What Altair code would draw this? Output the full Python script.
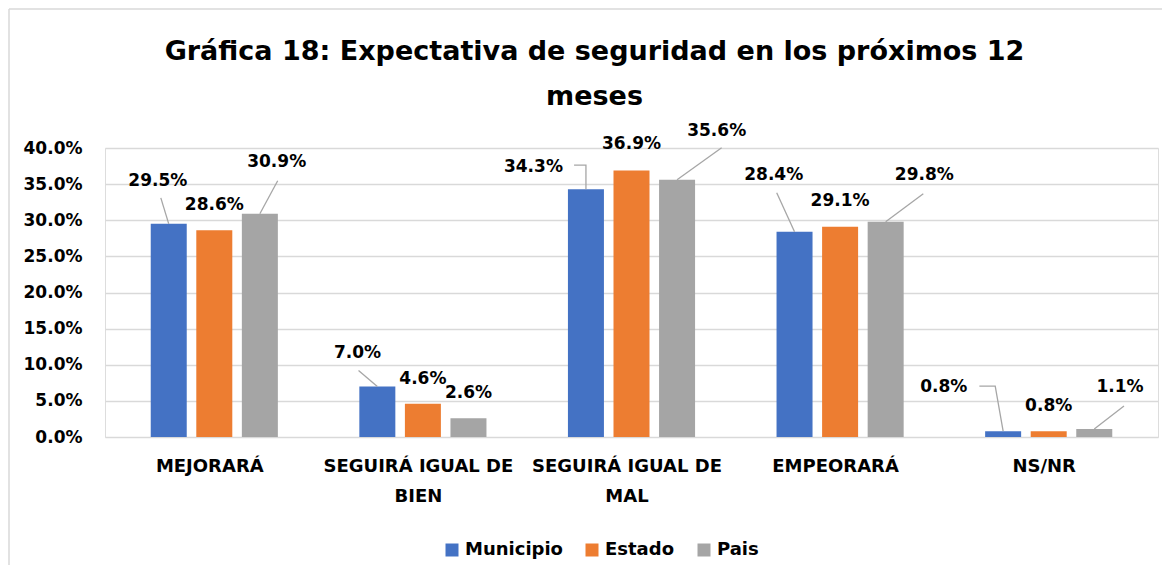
import json
import altair as alt
import pandas as pd

# ---------------- data ----------------
categories = ["MEJORARÁ", "SEGUIRÁ IGUAL DE BIEN", "SEGUIRÁ IGUAL DE MAL", "EMPEORARÁ", "NS/NR"]
category_tick_lines = [["MEJORARÁ"], ["SEGUIRÁ IGUAL DE", "BIEN"], ["SEGUIRÁ IGUAL DE", "MAL"],
                       ["EMPEORARÁ"], ["NS/NR"]]
series = ["Municipio", "Estado", "Pais"]
municipio = [29.5, 7.0, 34.3, 28.4, 0.8]
estado = [28.6, 4.6, 36.9, 29.1, 0.8]
pais = [30.9, 2.6, 35.6, 29.8, 1.1]
y_ticks = [0, 5, 10, 15, 20, 25, 30, 35, 40]
title_lines = ["Gráfica 18: Expectativa de seguridad en los próximos 12", "meses"]

# ---------------- style ----------------
W, H = 1053, 289
UX = W / len(categories)          # px per category unit
UY = H / 40.0                     # px per percentage point
BAR_STEP, BAR_W = 46, 36
COLORS = ["#4472C4", "#ED7D31", "#A5A5A5"]
FONT = "DejaVu Sans"

# data-label placement (px, relative to the top centre of each bar)
label_off = {
    "Municipio": [(-11, -43), (-20, -33), (-53, -22), (-21, -57), (-60, -44)],
    "Estado":    [(0, -25), (0, -25), (0, -26), (0, -26), (0, -25)],
    "Pais":      [(17, -52), (0, -25), (40, -49), (39, -47), (26, -42)],
}
leader_pts = {
    "Municipio": [[(0, 0), (-8, -26)], [(0, 0), (-19, -16)], [(0, 0), (0, -24), (-12, -24)],
                  [(0, 0), (-18, -39)], [(0, 0), (-8, -45), (-24, -45)]],
    "Estado":    [None, None, None, None, None],
    "Pais":      [[(0, 0), (18, -33)], None, [(0, 0), (45, -32)], [(0, 0), (38, -28)], [(0, 0), (30, -23)]],
}

values = {"Municipio": municipio, "Estado": estado, "Pais": pais}

bar_rows, lab_rows, lead_rows = [], [], []
for j, s in enumerate(series):
    for i, c in enumerate(categories):
        v = values[s][i]
        xc = i + 0.5 + (j - 1) * BAR_STEP / UX
        bar_rows.append({"x": xc, "v": v / 100, "serie": s, "cat": c})
        dx, dy = label_off[s][i]
        lab_rows.append({"x": xc + dx / UX, "v": (v - dy / UY) / 100, "t": f"{v:.1f}%"})
        pts = leader_pts[s][i]
        if pts:
            for k, (px, py) in enumerate(pts):
                lead_rows.append({"x": xc + px / UX, "v": (v - py / UY) / 100,
                                  "lid": f"{s}-{i}", "k": k})

bars_df = pd.DataFrame(bar_rows)
labs_df = pd.DataFrame(lab_rows)
lead_df = pd.DataFrame(lead_rows)

label_expr = json.dumps(category_tick_lines, ensure_ascii=False) + "[floor(datum.value)]"

X_AXIS = alt.Axis(values=[i + 0.5 for i in range(len(categories))], labelExpr=label_expr,
                  grid=False, domain=False, ticks=False, labelPadding=20, labelOffset=-5,
                  labelFont=FONT, labelFontSize=18, labelFontWeight="bold", labelColor="#000000",
                  labelLineHeight=30, labelOverlap=False, labelBound=False, labelLimit=400,
                  title=None)
Y_AXIS = alt.Axis(values=[t / 100 for t in y_ticks], format=".1%", grid=True, gridColor="#D9D9D9",
                  gridWidth=1.5, domain=False, ticks=False, labelPadding=23, labelFont=FONT,
                  labelFontSize=17, labelFontWeight="bold", labelColor="#000000", title=None)
XS = alt.Scale(domain=[0, len(categories)], nice=False, zero=False)
YS = alt.Scale(domain=[0, 0.4], nice=False)

# light chart-area frame: only the top and left edges are visible in the reference
one = pd.DataFrame({"a": [0]})
frame_top = alt.Chart(one).mark_rule(color="#D9D9D9", strokeWidth=1.5).encode(
    x=alt.value(-96), x2=alt.value(W + 60), y=alt.value(-139))
frame_left = alt.Chart(one).mark_rule(color="#D9D9D9", strokeWidth=1.5).encode(
    x=alt.value(-96), y=alt.value(-139), y2=alt.value(H + 160))

bars = alt.Chart(bars_df).mark_bar(size=BAR_W, orient="vertical").encode(
    x=alt.X("x:Q", scale=XS, axis=X_AXIS),
    y=alt.Y("v:Q", scale=YS, axis=Y_AXIS, stack=None),
    color=alt.Color("serie:N", scale=alt.Scale(domain=series, range=COLORS), sort=series,
                    legend=alt.Legend(orient="none", legendX=338, legendY=393, direction="horizontal",
                                      title=None, symbolType="square", symbolSize=169,
                                      symbolStrokeWidth=0, labelFont=FONT, labelFontSize=18,
                                      labelFontWeight="bold", labelColor="#000000", labelOffset=4,
                                      columnPadding=20, padding=0)),
)

leads = alt.Chart(lead_df).mark_line(color="#A6A6A6", strokeWidth=1.3).encode(
    x=alt.X("x:Q", scale=XS, axis=X_AXIS),
    y=alt.Y("v:Q", scale=YS, axis=Y_AXIS),
    detail="lid:N",
    order="k:Q",
)

labels = alt.Chart(labs_df).mark_text(font=FONT, fontSize=17, fontWeight="bold", color="#000000",
                                      align="center", baseline="middle").encode(
    x=alt.X("x:Q", scale=XS, axis=X_AXIS),
    y=alt.Y("v:Q", scale=YS, axis=Y_AXIS),
    text="t:N",
)

chart = alt.layer(frame_top, frame_left, bars, leads, labels).properties(
    width=W, height=H,
    title=alt.TitleParams(text=title_lines, font=FONT, fontSize=27, fontWeight="bold",
                          color="#000000", anchor="middle", dx=-37, dy=103, lineHeight=45, offset=0),
    autosize=alt.AutoSizeParams(type="none"),
    padding={"left": 97, "top": 140, "right": 4, "bottom": 128},
).configure_view(stroke=None).configure(background="white")

chart.save("out.html", embed_options={"renderer": "svg", "actions": False})
